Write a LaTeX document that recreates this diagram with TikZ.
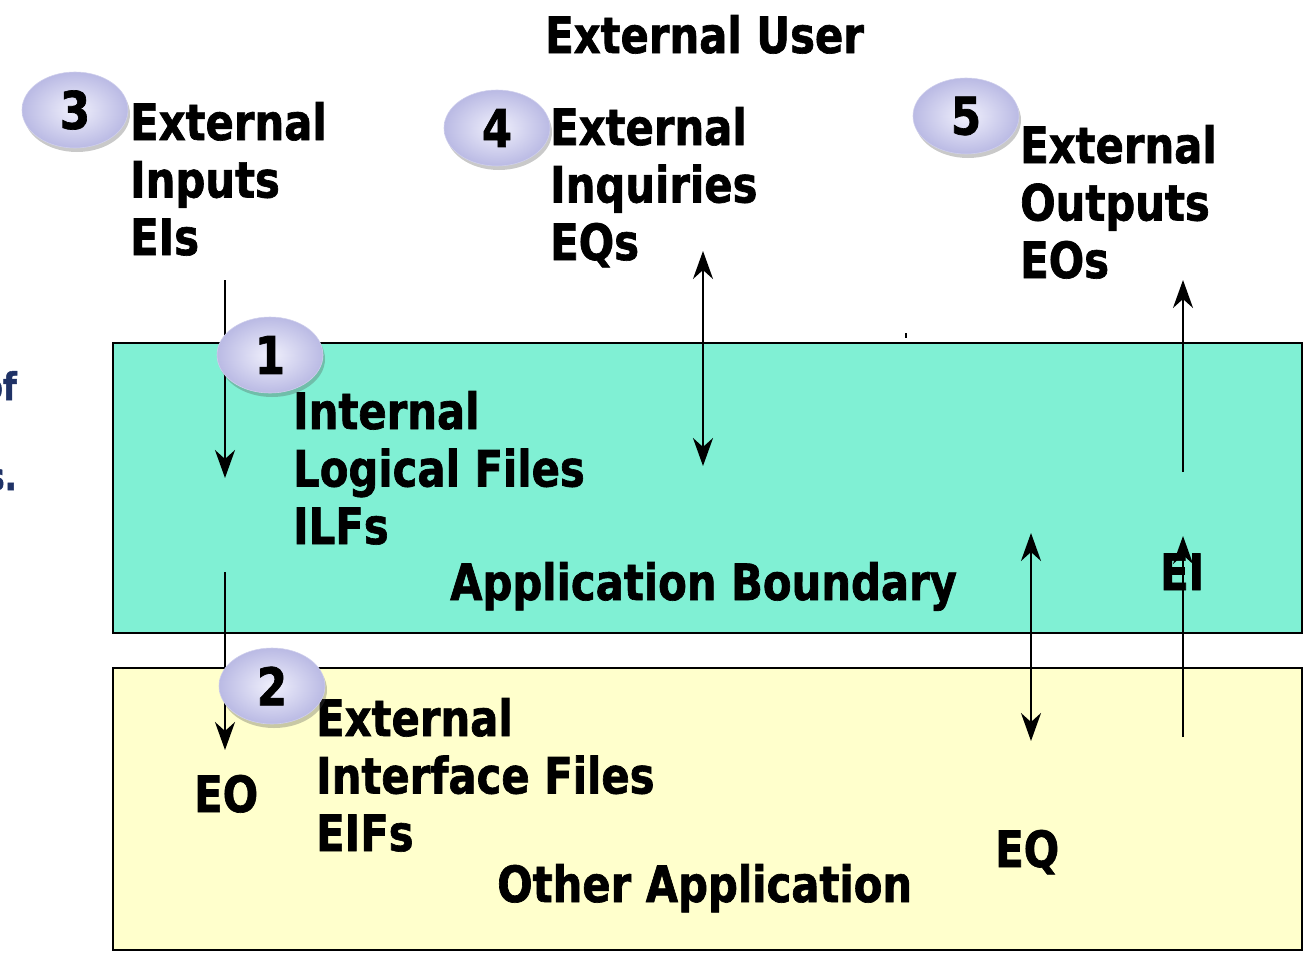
\documentclass[tikz,border=0pt]{standalone}
\usepackage{fontspec}
\setmainfont{DejaVu Sans}[FakeStretch=0.835,BoldFeatures={FakeBold=1.3}]
\usetikzlibrary{arrows.meta,shapes.geometric,shadows}

\definecolor{ilfTeal}{RGB}{128,240,212}
\definecolor{eifYellow}{RGB}{255,255,204}
\definecolor{badgeDark}{RGB}{186,186,228}
\definecolor{badgeLight}{RGB}{240,240,252}
\definecolor{slideNavy}{RGB}{31,50,102}

\tikzset{
  lbl/.style={anchor=base west,inner sep=0pt,align=left,
    font=\fontsize{50}{57.5}\selectfont\bfseries},
  cut/.style={anchor=base east,inner sep=0pt,text=slideNavy,
    font=\fontsize{38}{38}\selectfont\bfseries},
  badge/.style={ellipse,minimum width=106pt,minimum height=76pt,inner sep=0pt,
    shading=radial,inner color=badgeLight,outer color=badgeDark,
    draw=badgeDark!70,line width=0.6pt,
    drop shadow={shadow xshift=2pt,shadow yshift=-4pt,opacity=0.3,fill=black!70},
    font=\fontsize{52}{52}\selectfont\bfseries},
  flow/.style={line width=2.3pt,-{Stealth[length=28pt,width=20pt,inset=9pt]}},
  bothflow/.style={line width=2.3pt,{Stealth[length=28pt,width=20pt,inset=9pt]}-{Stealth[length=28pt,width=20pt,inset=9pt]}}
}

\begin{document}
\begin{tikzpicture}[x=1pt,y=-1pt]
    \useasboundingbox (0,0) rectangle (1307,959);

    % boundaries
    \draw[line width=2.5pt,fill=ilfTeal] (113,343) rectangle (1302,633);
    \draw[line width=2.5pt,fill=eifYellow] (113,668) rectangle (1302,950);
    \draw[line width=2pt] (906,333) -- (906,338);

    % cut-off slide text
    \node[cut] (leftOf) at (17,400) {of};
    \node[cut] (leftS) at (17,490) {s.};

    % labels (base = last line)
    \node[lbl] (user) at (545,53) {External User};
    \node[lbl] (ei) at (130,255) {External\\Inputs\\EIs};
    \node[lbl] (eq) at (550,260) {External\\Inquiries\\EQs};
    \node[lbl] (eo) at (1020,278) {External\\Outputs\\EOs};
    \node[lbl] (ilf) at (293,544) {Internal\\Logical Files\\ILFs};
    \node[lbl] (boundary) at (450,600) {Application Boundary};
    \node[lbl] (eiLbl) at (1160,590) {EI};
    \node[lbl] (eif) at (316,851) {External\\Interface Files\\EIFs};
    \node[lbl] (eoLbl) at (194,812) {EO};
    \node[lbl] (eqLbl) at (995,867) {EQ};
    \node[lbl] (other) at (497,902) {Other Application};

    % connector ends
    \coordinate (eiFrom) at (225,280);
    \coordinate (eiTo) at (225,478);
    \coordinate (eoFrom) at (225,572);
    \coordinate (eoTo) at (225,750);
    \coordinate (eqTop) at (703,251);
    \coordinate (eqBot) at (703,466);
    \coordinate (eqLowTop) at (1031,533);
    \coordinate (eqLowBot) at (1031,741);
    \coordinate (eoOutFrom) at (1183,472);
    \coordinate (eoOutTo) at (1183,280);
    \coordinate (eiInFrom) at (1183,737);
    \coordinate (eiInTo) at (1183,536);

    \draw[flow] (eiFrom) -- (eiTo);
    \draw[flow] (eoFrom) -- (eoTo);
    \draw[bothflow] (eqTop) -- (eqBot);
    \draw[bothflow] (eqLowTop) -- (eqLowBot);
    \draw[flow] (eoOutFrom) -- (eoOutTo);
    \draw[flow] (eiInFrom) -- (eiInTo);

    % numbered badges
    \node[badge] (badgeThree) at (75,110) {3};
    \node[badge] (badgeFour) at (497,128) {4};
    \node[badge] (badgeFive) at (966,116) {5};
    \node[badge] (badgeOne) at (270,355) {1};
    \node[badge] (badgeTwo) at (272,686) {2};
\end{tikzpicture}
\end{document}
